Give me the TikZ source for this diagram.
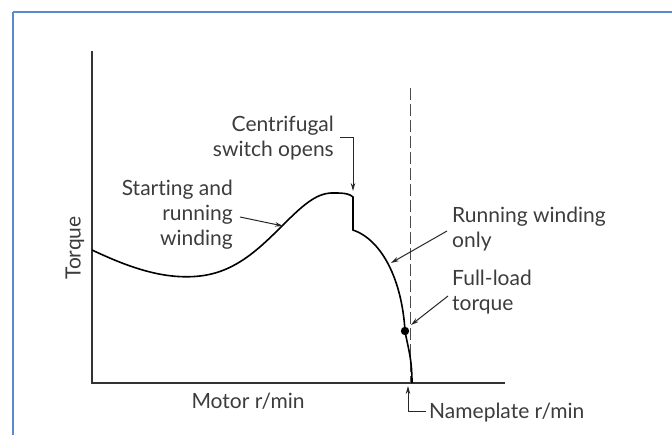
\documentclass[tikz,border=0pt]{standalone}
\usepackage{fontspec}
\setmainfont{Lato}[Ligatures=NoCommon]
\usetikzlibrary{arrows.meta}
\definecolor{framecol}{RGB}{88,138,208}
\definecolor{inkgray}{RGB}{60,60,60}
\begin{document}
\begin{tikzpicture}[x=1pt,y=-1pt,
  lbl/.style={font=\fontsize{21}{25}\selectfont, text=inkgray, inner sep=0pt},
  axisline/.style={line width=1.2pt, draw=black!80},
  curveline/.style={line width=1.6pt, draw=black},
  pointer/.style={line width=1pt, draw=black!85, -{Stealth[length=8pt,width=4.5pt]}},
  guide/.style={line width=0.9pt, draw=black!70, dash pattern=on 12pt off 4pt}]
\useasboundingbox (0,0) rectangle (672,435);
% page frame
\draw[framecol, line width=2pt] (12.5,12) -- (12.5,445) (12.5,12) -- (680,12);

% axes
\coordinate (origin) at (92,383);
\coordinate (ytop) at (92,51);
\coordinate (xend) at (505,383);
\draw[axisline] (ytop) -- (origin) -- (xend);
\node[lbl, rotate=90] (torque) at (75,248) {Torque};
\node[lbl] (motor) at (248,401) {Motor r/min};

% nameplate speed guide
\coordinate (guidetop) at (410,88);
\coordinate (guidebot) at (410,383);
\draw[guide] (guidetop) -- (guidebot);

% torque-speed curve
\coordinate (start) at (92,250);
\coordinate (valley) at (200,276);
\coordinate (mid) at (283,225);
\coordinate (peak) at (335,193);
\coordinate (switch) at (353,197);
\coordinate (drop) at (353,230);
\coordinate (full) at (405,331);
\coordinate (sync) at (412,383);
\draw[curveline] (start) .. controls (130,268) and (165,280) .. (valley)
  .. controls (235,272) and (258,250) .. (mid)
  .. controls (305,203) and (318,192) .. (peak)
  .. controls (345,193) and (350,194) .. (switch)
  -- (drop)
  .. controls (382,240) and (402,280) .. (full)
  .. controls (408,348) and (412,358) .. (sync);
\fill (full) circle (4.2pt);

% labels
\node[lbl, align=right, anchor=east] (startlbl) at (233,215) {Starting and\\running\\winding};
\node[lbl, align=right, anchor=east] (centlbl) at (334,138.5) {Centrifugal\\switch opens};
\node[lbl, align=left, anchor=west] (runlbl) at (452,229) {Running winding\\only};
\node[lbl, align=left, anchor=west] (fulllbl) at (452,292) {Full-load\\torque};
\node[lbl, anchor=west] (namelbl) at (429,413) {Nameplate r/min};

% pointers
\coordinate (sa) at (240,217);
\coordinate (sb) at (283,226);
\draw[pointer] (sa) -- (sb);
\coordinate (ca) at (340,138);
\coordinate (cb) at (353,191);
\draw[pointer] (ca) -| (cb);
\coordinate (ra) at (447,231);
\coordinate (rb) at (391,263);
\draw[pointer] (ra) -- (rb);
\coordinate (fa) at (448,296);
\coordinate (fb) at (411,325);
\draw[pointer] (fa) -- (fb);
\coordinate (na) at (426,412);
\coordinate (nb) at (408,386);
\draw[pointer] (na) -| (nb);
\end{tikzpicture}
\end{document}
